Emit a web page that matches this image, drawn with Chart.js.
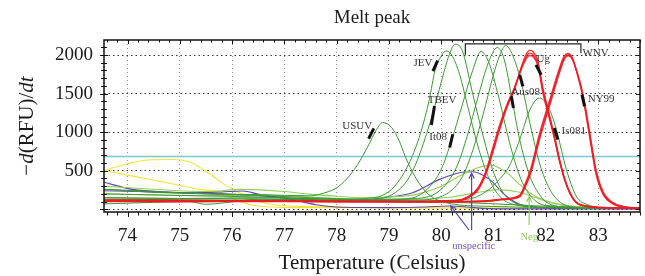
<!DOCTYPE html>
<html>
<head>
<meta charset="utf-8">
<script src="https://cdn.jsdelivr.net/npm/chart.js@4"></script>
<style>
  html, body { margin: 0; padding: 0; background: #fff; }
  #wrap { width: 645px; height: 276px; }
</style>
</head>
<body>
<div id="wrap"><canvas id="melt" width="645" height="276"></canvas></div>
<script>
// Melt peak: -d(RFU)/dt against temperature
const xMin = 73.55, xMax = 83.8;
const yMin = -35, yMax = 2195;
const xTicks = [74, 75, 76, 77, 78, 79, 80, 81, 82, 83];
const yTicks = [0, 500, 1000, 1500, 2000];
const threshold = 685;

// green curves (flavivirus samples)
const usuvT = [73.55, 74.5, 75.5, 76.5, 77.5, 77.7, 78.0, 78.2, 78.4, 78.6, 78.75, 78.88, 79.05, 79.2, 79.31, 79.5, 79.7, 79.9, 80.2, 80.8, 83.8];
const usuvY = [260, 220, 200, 190, 175, 200, 280, 400, 580, 820, 1020, 1124, 1060, 880, 685, 420, 230, 130, 70, 40, 15];
const jevT = [73.55, 75, 76.5, 78, 78.7, 79.0, 79.2, 79.4, 79.6, 79.77, 79.88, 80.0, 80.09, 80.2, 80.35, 80.5, 80.7, 80.9, 81.1, 81.4, 82, 83.8];
const jevY = [150, 140, 150, 130, 150, 230, 380, 620, 980, 1420, 1800, 1990, 2054, 2000, 1750, 1350, 820, 420, 180, 60, 25, 10];
const tbevT = [73.55, 75, 76.5, 78, 78.9, 79.2, 79.4, 79.6, 79.84, 80.0, 80.15, 80.27, 80.4, 80.6, 80.8, 81.0, 81.2, 81.5, 82, 83.8];
const tbevY = [130, 125, 115, 110, 150, 260, 430, 740, 1250, 1650, 2000, 2140, 2060, 1500, 950, 480, 200, 60, 25, 10];
const it08T = [73.55, 74.5, 75.2, 75.5, 75.8, 76.5, 77.5, 78.5, 79.3, 79.7, 80.0, 80.19, 80.4, 80.6, 80.76, 80.9, 81.1, 81.3, 81.5, 81.7, 82.0, 83.8];
const it08Y = [110, 120, 100, 65, 80, 130, 120, 110, 130, 240, 520, 880, 1350, 1800, 2045, 1920, 1450, 880, 430, 180, 50, 10];
const aus1T = [73.55, 74.5, 75.5, 76.5, 77.5, 78.5, 79.5, 80.0, 80.3, 80.5, 80.7, 80.9, 81.07, 81.2, 81.36, 81.5, 81.7, 81.9, 82.1, 82.6, 83.8];
const aus1Y = [260, 230, 200, 180, 150, 130, 140, 260, 560, 960, 1450, 1900, 2097, 1950, 1400, 900, 420, 170, 60, 20, 10];
const aus2T = [73.55, 75, 76.5, 78, 79.5, 80.1, 80.4, 80.6, 80.8, 81.0, 81.12, 81.23, 81.35, 81.52, 81.7, 81.9, 82.1, 82.3, 82.6, 83.8];
const aus2Y = [200, 180, 160, 130, 120, 200, 420, 760, 1230, 1750, 2000, 2123, 2020, 1670, 1100, 550, 230, 80, 25, 10];
const is081T = [73.55, 75, 76.5, 78, 79.5, 80.5, 80.9, 81.1, 81.3, 81.5, 81.7, 81.88, 82.05, 82.2, 82.3, 82.39, 82.58, 82.8, 83.2, 83.8];
const is081Y = [150, 140, 135, 120, 110, 130, 250, 380, 560, 904, 1300, 1443, 1320, 1040, 760, 520, 172, 60, 20, 10];
const gBaseT = [73.55, 74.5, 75.5, 76.5, 77.5, 78.5, 79.5, 80.5, 81.5, 82.5, 83.8];
const gBaseY = [70, 90, 110, 120, 115, 105, 95, 85, 55, 25, 15];

// light green curves (weak / negative)
const lgPeakT = [73.55, 74.5, 75.5, 76.2, 77.0, 77.5, 78.0, 78.5, 79.0, 79.5, 80.0, 80.4, 80.7, 80.95, 81.1, 81.3, 81.5, 81.8, 82.1, 82.5, 83.8];
const lgPeakY = [300, 260, 230, 258, 230, 194, 170, 150, 160, 190, 300, 450, 540, 573, 540, 450, 320, 170, 90, 35, 10];
const negT = [73.55, 74.5, 75.5, 76.5, 77.5, 78.5, 79.5, 80.2, 80.7, 81.1, 81.5, 81.8, 82.2, 82.8, 83.8];
const negY = [200, 185, 175, 185, 160, 130, 130, 160, 220, 255, 220, 150, 70, 25, 10];

// purple curves (unspecific)
const purpleAT = [73.55, 74.1, 74.75, 75.3, 75.8, 76.2, 76.52, 77.15, 77.6, 78.0, 79.0, 79.7, 80.15, 80.5, 80.8, 81.5, 83.8];
const purpleAY = [350, 258, 224, 215, 225, 237, 194, 129, 60, 30, 22, 30, 43, 30, 12, 5, 5];
const purpleBT = [73.55, 74.2, 75.0, 75.8, 76.5, 77.2, 78.0, 78.5, 79.0, 79.45, 79.97, 80.35, 80.6, 80.92, 81.24, 81.5, 82.0, 83.8];
const purpleBY = [240, 230, 215, 200, 175, 140, 110, 120, 160, 215, 388, 474, 487, 388, 172, 65, 20, 8];

// yellow curves
const yellow1T = [73.55, 74.0, 74.4, 74.9, 75.2, 75.57, 75.76, 76.0, 76.2, 76.45, 76.8, 77.5, 78.5, 80, 82, 83.8];
const yellow1Y = [500, 590, 640, 646, 610, 460, 366, 260, 194, 110, 60, 35, 25, 20, 15, 10];
const yellow2T = [73.55, 74.1, 74.75, 75.38, 75.76, 75.95, 76.2, 76.45, 77, 78.5, 80, 83.8];
const yellow2Y = [505, 430, 345, 258, 225, 160, 90, 45, 25, 20, 15, 10];

// red curves (WNV lineages: Ug and NY99, several replicates)
const ugT = [73.55, 75, 76.5, 78, 79.5, 80.3, 80.5, 80.7, 80.85, 81.0, 81.11, 81.25, 81.4, 81.55, 81.62, 81.69, 81.76, 81.85, 81.94, 82.05, 82.16, 82.26, 82.36, 82.47, 82.58, 82.8, 83.2, 83.8];
const ug1Y = [105, 100, 105, 100, 100, 110, 150, 260, 470, 800, 1050, 1330, 1570, 1870, 1975, 2025, 2000, 1880, 1550, 1250, 947, 640, 388, 200, 90, 40, 20, 10];
const ug2Y = [100, 98, 100, 98, 98, 108, 145, 250, 450, 770, 1020, 1310, 1555, 1880, 2005, 2060, 2040, 1910, 1580, 1270, 960, 650, 395, 205, 92, 40, 20, 10];
const ug3Y = [110, 105, 108, 104, 102, 115, 160, 275, 490, 830, 1080, 1350, 1580, 1850, 1945, 1995, 1975, 1860, 1520, 1220, 925, 625, 375, 190, 85, 38, 18, 10];
const nyT = [73.55, 76, 78, 80, 80.8, 81.2, 81.5, 81.6, 81.72, 81.88, 82.07, 82.26, 82.35, 82.42, 82.5, 82.6, 82.71, 82.83, 82.96, 83.1, 83.3, 83.5, 83.8];
const ny1Y = [120, 110, 105, 100, 105, 130, 172, 300, 517, 947, 1378, 1800, 1960, 2003, 1960, 1760, 1464, 995, 478, 200, 70, 30, 15];
const ny2Y = [115, 108, 100, 98, 102, 125, 160, 280, 490, 910, 1340, 1770, 1940, 1990, 1955, 1770, 1490, 1030, 510, 220, 80, 35, 15];
const ny3Y = [110, 105, 102, 100, 108, 135, 185, 320, 545, 985, 1410, 1830, 1985, 2020, 1975, 1760, 1450, 970, 455, 185, 65, 28, 14];

// labels, black marks on the curves, the WNV bracket (data units)
const curveLabels = [
  { text: 'USUV', x: 78.68, y: 1075, align: 'right' },
  { text: 'JEV', x: 79.83, y: 1890, align: 'right' },
  { text: 'TBEV', x: 79.74, y: 1421, align: 'left' },
  { text: 'It08', x: 80.11, y: 930, align: 'right' },
  { text: 'Aus08', x: 81.34, y: 1525, align: 'left' },
  { text: 'Ug', x: 81.82, y: 1951, align: 'left' },
  { text: 'WNV', x: 82.70, y: 2030, align: 'left' },
  { text: 'NY99', x: 82.80, y: 1434, align: 'left' },
  { text: 'Is081', x: 82.30, y: 1008, align: 'left' }
];
const curveMarks = [
  [78.61, 917, 78.71, 1050],
  [79.84, 1792, 79.93, 1929],
  [79.81, 1094, 79.87, 1340],
  [80.16, 801, 80.22, 973],
  [81.50, 1744, 81.56, 1593],
  [81.34, 1464, 81.38, 1314],
  [81.81, 1873, 81.91, 1744],
  [82.69, 1486, 82.74, 1335],
  [82.16, 1055, 82.23, 904]
];
const wnvBracket = { from: 80.46, to: 82.67, top: 2145, leftEnd: 2005, rightEnd: 2025 };

const SERIF = '"Liberation Serif", "Times New Roman", serif';
const GREEN = 'rgb(62, 150, 52)';
const LIGHT_GREEN = 'rgb(150, 205, 95)';
const RED = 'rgba(236, 28, 36, 0.9)';
const PURPLE = 'rgb(88, 70, 170)';
const YELLOW = 'rgb(242, 228, 60)';
const CYAN = 'rgb(120, 200, 212)';

const pts = (t, v) => t.map((x, i) => ({ x: x, y: v[i] }));

function curve(t, v, color, width, order) {
  return {
    data: pts(t, v),
    borderColor: color,
    borderWidth: width,
    pointRadius: 0,
    showLine: true,
    fill: false,
    cubicInterpolationMode: 'monotone',
    order: order
  };
}

const datasets = [
  curve(ugT, ug1Y, RED, 1.4, 1),
  curve(ugT, ug2Y, RED, 1.4, 1),
  curve(ugT, ug3Y, RED, 1.4, 1),
  curve(nyT, ny1Y, RED, 1.4, 1),
  curve(nyT, ny2Y, RED, 1.4, 1),
  curve(nyT, ny3Y, RED, 1.4, 1),
  curve(usuvT, usuvY, GREEN, 1, 2),
  curve(jevT, jevY, GREEN, 1, 2),
  curve(tbevT, tbevY, GREEN, 1, 2),
  curve(it08T, it08Y, GREEN, 1, 2),
  curve(aus1T, aus1Y, GREEN, 1, 2),
  curve(aus2T, aus2Y, GREEN, 1, 2),
  curve(is081T, is081Y, GREEN, 1, 2),
  curve(gBaseT, gBaseY, GREEN, 1, 2),
  curve(lgPeakT, lgPeakY, LIGHT_GREEN, 1.1, 3),
  curve(negT, negY, LIGHT_GREEN, 1.1, 3),
  curve(purpleAT, purpleAY, PURPLE, 1.1, 3),
  curve(purpleBT, purpleBY, PURPLE, 1.1, 3),
  curve(yellow1T, yellow1Y, YELLOW, 1.1, 4),
  curve(yellow2T, yellow2Y, YELLOW, 1.1, 4),
  curve([xMin, xMax], [threshold, threshold], CYAN, 1.5, 5)
];

function arrow(ctx, x1, y1, x2, y2, color) {
  const ang = Math.atan2(y2 - y1, x2 - x1);
  ctx.strokeStyle = color;
  ctx.lineWidth = 1.2;
  ctx.beginPath();
  ctx.moveTo(x1, y1);
  ctx.lineTo(x2, y2);
  ctx.moveTo(x2 - 6 * Math.cos(ang - 0.45), y2 - 6 * Math.sin(ang - 0.45));
  ctx.lineTo(x2, y2);
  ctx.lineTo(x2 - 6 * Math.cos(ang + 0.45), y2 - 6 * Math.sin(ang + 0.45));
  ctx.stroke();
}

// frame, ticks on all sides, titles and the annotations
const decor = {
  id: 'decor',
  afterDatasetsDraw(chart) {
    const { ctx, chartArea: a, scales: { x, y } } = chart;
    ctx.save();

    // frame
    ctx.strokeStyle = '#111';
    ctx.lineWidth = 1.5;
    ctx.strokeRect(a.left, a.top, a.right - a.left, a.bottom - a.top);

    // minor and major ticks
    ctx.lineWidth = 1;
    ctx.beginPath();
    for (let i = 0; ; i++) {
      const v = Math.round((73.6 + i * 0.2) * 10) / 10;
      if (v > xMax + 0.001) break;
      const px = Math.round(x.getPixelForValue(v)) + 0.5;
      const major = Math.abs(v - Math.round(v)) < 0.01;
      ctx.moveTo(px, a.bottom); ctx.lineTo(px, a.bottom + (major ? 5 : 3.5));
      ctx.moveTo(px, a.top); ctx.lineTo(px, a.top + (major ? 4 : 2.5));
    }
    for (let v = 0; v <= 2100; v += 100) {
      const py = Math.round(y.getPixelForValue(v)) + 0.5;
      const l = v % 500 === 0 ? 4 : 3;
      ctx.moveTo(a.left - l, py); ctx.lineTo(a.left + l, py);
      ctx.moveTo(a.right, py); ctx.lineTo(a.right - l, py);
    }
    ctx.stroke();

    // WNV bracket
    const b = wnvBracket;
    ctx.strokeStyle = '#222';
    ctx.lineWidth = 1.2;
    ctx.beginPath();
    ctx.moveTo(x.getPixelForValue(b.from), y.getPixelForValue(b.leftEnd));
    ctx.lineTo(x.getPixelForValue(b.from), y.getPixelForValue(b.top));
    ctx.lineTo(x.getPixelForValue(b.to), y.getPixelForValue(b.top));
    ctx.lineTo(x.getPixelForValue(b.to), y.getPixelForValue(b.rightEnd));
    ctx.stroke();

    // black marks on the curves
    ctx.strokeStyle = '#111';
    ctx.lineWidth = 3;
    ctx.lineCap = 'butt';
    curveMarks.forEach(function (m) {
      ctx.beginPath();
      ctx.moveTo(x.getPixelForValue(m[0]), y.getPixelForValue(m[1]));
      ctx.lineTo(x.getPixelForValue(m[2]), y.getPixelForValue(m[3]));
      ctx.stroke();
    });

    // curve labels
    ctx.font = '11px ' + SERIF;
    ctx.fillStyle = '#333';
    ctx.textBaseline = 'middle';
    curveLabels.forEach(function (l) {
      ctx.textAlign = l.align;
      ctx.fillText(l.text, x.getPixelForValue(l.x), y.getPixelForValue(l.y));
    });

    // unspecific arrows and label, below the axis
    const base = a.bottom + 18;
    arrow(ctx, x.getPixelForValue(80.58), base, x.getPixelForValue(80.58), y.getPixelForValue(470), PURPLE);
    arrow(ctx, x.getPixelForValue(80.53), base, x.getPixelForValue(80.18), y.getPixelForValue(45), PURPLE);
    ctx.font = '10.5px ' + SERIF;
    ctx.fillStyle = 'rgb(120, 80, 190)';
    ctx.textAlign = 'center';
    ctx.fillText('unspecific', x.getPixelForValue(80.62), a.bottom + 34);

    // Neg arrow and label
    arrow(ctx, x.getPixelForValue(81.68), a.bottom + 13, x.getPixelForValue(81.68), y.getPixelForValue(165), LIGHT_GREEN);
    ctx.fillStyle = LIGHT_GREEN;
    ctx.fillText('Neg', x.getPixelForValue(81.68), a.bottom + 25);

    ctx.restore();
  },
  afterDraw(chart) {
    const { ctx, chartArea: a } = chart;
    ctx.save();
    ctx.fillStyle = '#1a1a1a';
    ctx.textBaseline = 'middle';

    // title
    ctx.font = '19px ' + SERIF;
    ctx.textAlign = 'center';
    ctx.fillText('Melt peak', (a.left + a.right) / 2, 18);

    // y title with italic d and t
    const parts = [['\u2212', false], ['d', true], ['(RFU)/', false], ['dt', true]];
    const fontOf = it => (it ? 'italic ' : '') + '21px ' + SERIF;
    let total = 0;
    parts.forEach(function (p) { ctx.font = fontOf(p[1]); total += ctx.measureText(p[0]).width; });
    ctx.translate(27, (a.top + a.bottom) / 2);
    ctx.rotate(-Math.PI / 2);
    ctx.textAlign = 'left';
    let cx = -total / 2;
    parts.forEach(function (p) {
      ctx.font = fontOf(p[1]);
      ctx.fillText(p[0], cx, 0);
      cx += ctx.measureText(p[0]).width;
    });
    ctx.restore();
  }
};

new Chart(document.getElementById('melt'), {
  type: 'scatter',
  data: { datasets: datasets },
  options: {
    responsive: false,
    animation: false,
    devicePixelRatio: 1,
    layout: { padding: { top: 40, right: 5, bottom: 0, left: 0 } },
    plugins: {
      legend: { display: false },
      tooltip: { enabled: false },
      title: { display: false }
    },
    scales: {
      x: {
        type: 'linear',
        min: xMin,
        max: xMax,
        afterBuildTicks: s => { s.ticks = xTicks.map(v => ({ value: v })); },
        afterFit: s => { s.height = 64; },
        grid: { color: 'rgba(140, 140, 140, 0.9)', lineWidth: 1, drawTicks: false },
        border: { display: false, dash: [1, 3] },
        ticks: {
          padding: 13,
          maxRotation: 0,
          autoSkip: false,
          color: '#1a1a1a',
          font: { family: SERIF, size: 19 }
        },
        title: {
          display: true,
          text: 'Temperature (Celsius)',
          color: '#1a1a1a',
          font: { family: SERIF, size: 21 },
          padding: { top: 0, bottom: 0 }
        }
      },
      y: {
        type: 'linear',
        min: yMin,
        max: yMax,
        afterBuildTicks: s => { s.ticks = yTicks.map(v => ({ value: v })); },
        afterFit: s => { s.width = 104; },
        grid: { color: '#333', lineWidth: 1, drawTicks: false },
        border: { display: false, dash: [1.5, 3] },
        ticks: {
          padding: 11,
          color: '#1a1a1a',
          font: { family: SERIF, size: 19 },
          callback: v => (v === 0 ? '' : String(v))
        }
      }
    }
  },
  plugins: [decor]
});
</script>
</body>
</html>
